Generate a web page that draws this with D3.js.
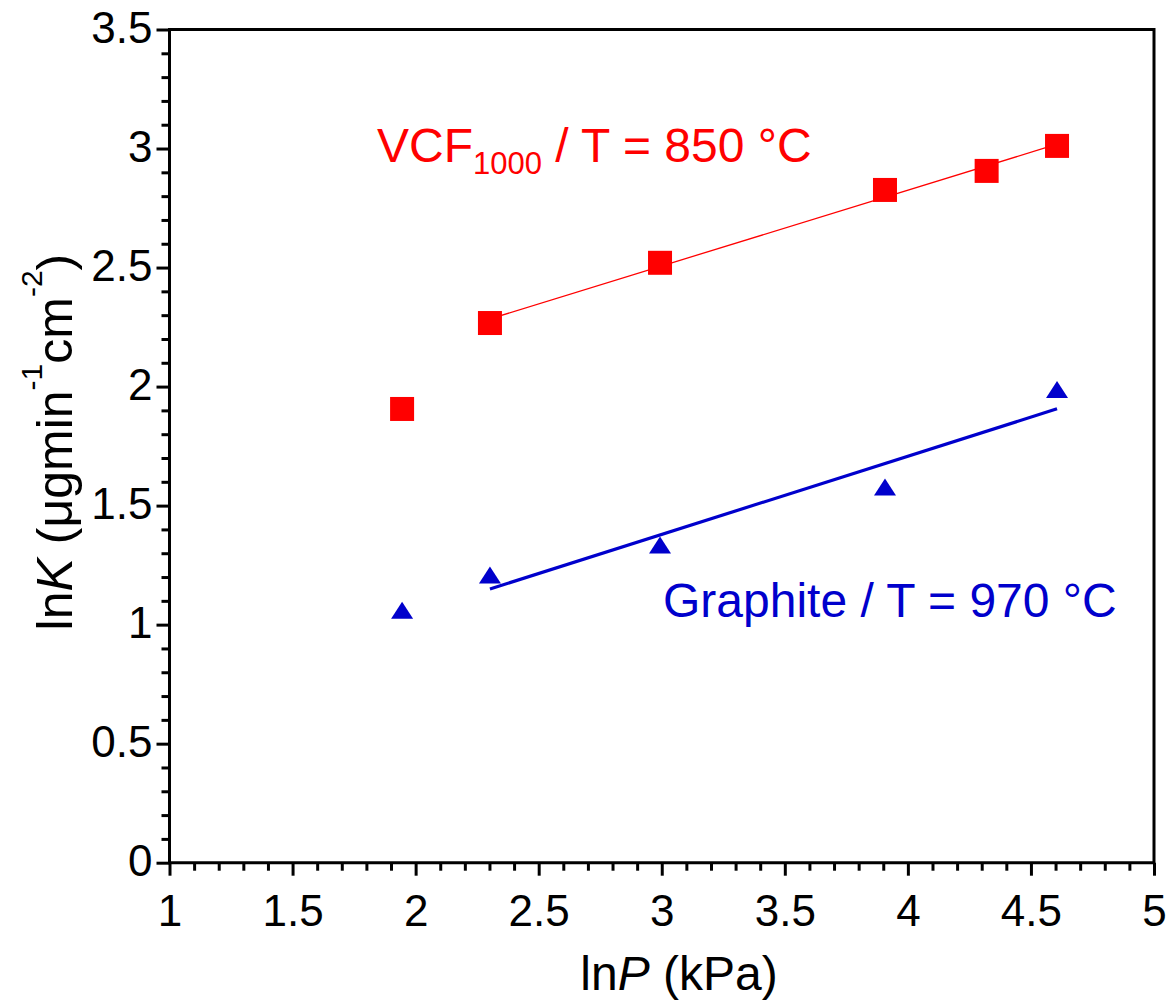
<!DOCTYPE html>
<html>
<head>
<meta charset="utf-8">
<script src="https://cdn.jsdelivr.net/npm/d3@7"></script>
<style>
  html, body { margin: 0; padding: 0; background: #fff; }
  svg { display: block; font-family: "Liberation Sans", Arial, sans-serif; }
</style>
</head>
<body>
<svg id="chart" width="1174" height="1004"></svg>
<script>
// ---- data ----
const vcfX = [1.945, 2.302, 2.993, 3.907, 4.320, 4.606];
const vcfY = [1.906, 2.267, 2.520, 2.826, 2.906, 3.011];
const vcfFitIdx = [1, 2, 3, 4, 5];
const grX = [1.945, 2.302, 2.993, 3.907, 4.606];
const grY = [1.060, 1.209, 1.335, 1.578, 1.988];
const grFitIdx = [1, 2, 3, 4];
const xTicks = [1, 1.5, 2, 2.5, 3, 3.5, 4, 4.5, 5];
const yTicks = [0, 0.5, 1, 1.5, 2, 2.5, 3, 3.5];
const xTickLabels = ["1", "1.5", "2", "2.5", "3", "3.5", "4", "4.5", "5"];
const yTickLabels = ["0", "0.5", "1", "1.5", "2", "2.5", "3", "3.5"];

// ---- layout ----
const L = 169.5, R = 1154, T = 29.5, B = 862.7;
const svg = d3.select("#chart");
const x = d3.scaleLinear().domain([1, 5]).range([L, R]);
const y = d3.scaleLinear().domain([0, 3.5]).range([B, T]);

const minorX = d3.range(10, 51).map(d => d / 10).filter(d => Math.abs(d * 2 - Math.round(d * 2)) > 1e-6);
const minorY = d3.range(0, 36).map(d => d / 10).filter(d => Math.abs(d * 2 - Math.round(d * 2)) > 1e-6);

const axStroke = 3;
function styleAxis(g) {
  g.select(".domain").remove();
  g.selectAll("line").attr("stroke", "#000").attr("stroke-width", axStroke);
}

// minor ticks
svg.append("g").attr("transform", `translate(0,${B})`)
  .call(d3.axisBottom(x).tickValues(minorX).tickSize(8).tickFormat(""))
  .call(styleAxis);
svg.append("g").attr("transform", `translate(${L},0)`)
  .call(d3.axisLeft(y).tickValues(minorY).tickSize(8).tickFormat(""))
  .call(styleAxis);

// major ticks
const xAx = svg.append("g").attr("transform", `translate(0,${B})`)
  .call(d3.axisBottom(x).tickValues(xTicks).tickSize(13).tickFormat((d, i) => xTickLabels[i]))
  .call(styleAxis);
xAx.selectAll("text").attr("y", 63).attr("dy", null)
  .attr("font-size", 44).attr("fill", "#000").attr("font-family", "Liberation Sans, Arial, sans-serif");

const yAx = svg.append("g").attr("transform", `translate(${L},0)`)
  .call(d3.axisLeft(y).tickValues(yTicks).tickSize(13).tickFormat((d, i) => yTickLabels[i]))
  .call(styleAxis);
yAx.selectAll("text").attr("x", -17).attr("dy", "0.30em")
  .attr("font-size", 44).attr("fill", "#000").attr("font-family", "Liberation Sans, Arial, sans-serif");

// frame
svg.append("path")
  .attr("d", `M${x(1)},${y(0)}H${x(5)}V${y(3.5)}H${x(1)}Z`)
  .attr("fill", "none").attr("stroke", "#000").attr("stroke-width", axStroke)
  .attr("stroke-linejoin", "miter").attr("stroke-linecap", "square");

// regression helper
function fit(xs, ys, idx) {
  const px = idx.map(i => xs[i]), py = idx.map(i => ys[i]);
  const mx = d3.mean(px), my = d3.mean(py);
  const sxy = d3.sum(px.map((v, k) => (v - mx) * (py[k] - my)));
  const sxx = d3.sum(px.map(v => (v - mx) * (v - mx)));
  const b = sxy / sxx, a = my - b * mx;
  const x0 = d3.min(px), x1 = d3.max(px);
  return [[x0, a + b * x0], [x1, a + b * x1]];
}
const line = d3.line().x(d => x(d[0])).y(d => y(d[1]));

svg.append("path").attr("d", line(fit(vcfX, vcfY, vcfFitIdx)))
  .attr("stroke", "#ff0000").attr("stroke-width", 1.3).attr("fill", "none");
svg.append("path").attr("d", line(fit(grX, grY, grFitIdx)))
  .attr("stroke", "#0000cc").attr("stroke-width", 3.2).attr("fill", "none");

// squares
const sq = 24;
svg.append("g").selectAll("rect").data(vcfX.map((v, i) => [v, vcfY[i]])).join("rect")
  .attr("x", d => x(d[0]) - sq / 2).attr("y", d => y(d[1]) - sq / 2)
  .attr("width", sq).attr("height", sq).attr("fill", "#ff0000");

// triangles
const tw = 22, th = 17;
svg.append("g").selectAll("path").data(grX.map((v, i) => [v, grY[i]])).join("path")
  .attr("transform", d => `translate(${x(d[0])},${y(d[1])})`)
  .attr("d", `M0,${-th / 2}L${tw / 2},${th / 2}L${-tw / 2},${th / 2}Z`)
  .attr("fill", "#0000cc");

// annotations
const vt = svg.append("text").attr("x", 377).attr("y", 162)
  .attr("font-size", 48).attr("fill", "#ff0000");
vt.append("tspan").text("VCF");
vt.append("tspan").attr("font-size", 31).attr("dy", 12).text("1000");
vt.append("tspan").attr("dy", -12).text(" / T = 850 °C");

svg.append("text").attr("x", 663).attr("y", 617)
  .attr("font-size", 48).attr("fill", "#0000cc").text("Graphite / T = 970 °C");

// axis titles
const xt = svg.append("text").attr("x", x(3.07)).attr("y", 990)
  .attr("text-anchor", "middle").attr("font-size", 48).attr("fill", "#000");
xt.append("tspan").text("ln");
xt.append("tspan").attr("font-style", "italic").text("P");
xt.append("tspan").text(" (kPa)");

const yt = svg.append("text").attr("transform", `translate(72,${(T + B) / 2 - 4}) rotate(-90)`)
  .attr("text-anchor", "middle").attr("font-size", 50).attr("fill", "#000");
yt.append("tspan").text("ln");
yt.append("tspan").attr("font-style", "italic").text("K");
yt.append("tspan").text(" (μgmin");
yt.append("tspan").attr("font-size", 30).attr("dy", -30).text("-1");
yt.append("tspan").attr("dy", 30).text("cm");
yt.append("tspan").attr("font-size", 30).attr("dy", -30).text("-2");
yt.append("tspan").attr("dy", 30).text(")");
</script>
</body>
</html>
